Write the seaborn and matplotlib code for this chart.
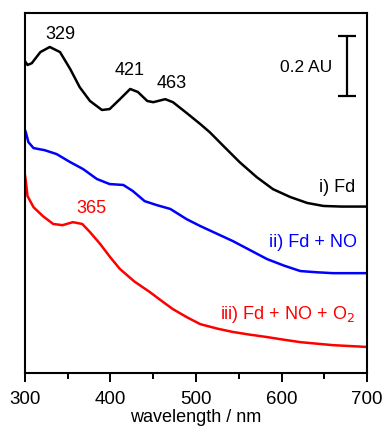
import matplotlib
matplotlib.use("Agg")
import matplotlib.pyplot as plt
import seaborn as sns
import pandas as pd

# spectra (wavelength in nm, absorbance offset in AU)
wl_fd = [300, 303, 308, 318, 329, 341, 353, 364, 376, 390, 399, 411, 423, 432, 443, 450,
         464, 473, 489, 505, 516, 532, 551, 571, 590, 610, 630, 649, 670, 700]
abs_fd = [1.04, 1.027, 1.033, 1.07, 1.087, 1.07, 1.013, 0.953, 0.907, 0.877, 0.88, 0.913,
          0.947, 0.937, 0.907, 0.903, 0.913, 0.903, 0.867, 0.83, 0.803, 0.757, 0.703, 0.653,
          0.613, 0.587, 0.567, 0.557, 0.555, 0.555]

wl_no = [300, 301, 304, 310, 323, 337, 353, 368, 384, 399, 415, 426, 440, 454, 470, 489,
         505, 524, 543, 563, 583, 603, 622, 641, 660, 680, 700]
abs_no = [0.81, 0.803, 0.77, 0.75, 0.743, 0.73, 0.703, 0.68, 0.647, 0.63, 0.627, 0.607,
          0.573, 0.56, 0.547, 0.513, 0.49, 0.465, 0.44, 0.41, 0.38, 0.358, 0.34, 0.336,
          0.333, 0.333, 0.333]

wl_o2 = [300, 301, 303, 310, 321, 333, 344, 356, 367, 376, 388, 400, 411, 428, 446, 460,
         473, 490, 505, 525, 543, 563, 583, 603, 622, 641, 660, 680, 700]
abs_o2 = [0.66, 0.64, 0.59, 0.553, 0.523, 0.497, 0.493, 0.503, 0.497, 0.47, 0.43, 0.385,
          0.347, 0.305, 0.27, 0.24, 0.213, 0.185, 0.163, 0.148, 0.137, 0.128, 0.12, 0.111,
          0.103, 0.098, 0.093, 0.09, 0.087]

series = [("i) Fd", wl_fd, abs_fd, "black"),
          ("ii) Fd + NO", wl_no, abs_no, "#0000ff"),
          ("iii) Fd + NO + O$_2$", wl_o2, abs_o2, "#ff0000")]

peak_labels = ["329", "421", "463"]
peak_pos = [(341, 1.133), (422, 1.013), (472, 0.967)]

sns.set_theme(style="ticks")
plt.rcParams["font.family"] = ["Liberation Sans", "DejaVu Sans"]
plt.rcParams["text.color"] = "black"
plt.rcParams["axes.labelcolor"] = "black"
plt.rcParams["xtick.color"] = "black"

fig = plt.figure(figsize=(3.84, 4.27), dpi=100)
ax = fig.add_axes([0.065, 0.124, 0.891, 0.843])

for name, x, y, col in series:
    df = pd.DataFrame({"wl": x, "A": y})
    sns.lineplot(data=df, x="wl", y="A", color=col, lw=1.8, ax=ax, sort=False,
                 solid_joinstyle="round")

fs = 13
for lab, (x, y) in zip(peak_labels, peak_pos):
    ax.text(x, y, lab, ha="center", va="center", fontsize=fs, color="black")
ax.text(378, 0.553, "365", ha="center", va="center", fontsize=fs, color="#ff0000")

ax.text(686, 0.623, "i) Fd", ha="right", va="center", fontsize=fs, color="black")
ax.text(688, 0.437, "ii) Fd + NO", ha="right", va="center", fontsize=fs, color="#0000ff")
ax.text(686, 0.197, "iii) Fd + NO + O$_2$", ha="right", va="center", fontsize=fs,
        color="#ff0000")

# 0.2 AU scale bar
ax.errorbar([676.5], [1.023], yerr=[0.1], color="black", lw=1.6, capsize=6.5, capthick=1.6)
ax.text(659, 1.023, "0.2 AU", ha="right", va="center", fontsize=12.5)

ax.set_xlim(300, 700)
ax.set_ylim(0, 1.2)
ax.set_xticks([300, 400, 500, 600, 700])
ax.set_xticks([350, 450, 550, 650], minor=True)
ax.set_yticks([])
ax.tick_params(axis="x", direction="out", length=6.5, width=1.4, labelsize=13.5, pad=6)
ax.tick_params(axis="x", which="minor", direction="out", length=4.3, width=1.4)
for s in ax.spines.values():
    s.set_linewidth(1.5)
    s.set_color("black")
ax.set_xlabel("wavelength / nm", fontsize=13, labelpad=0.5)
ax.set_ylabel("")

fig.savefig("out.png", dpi=100)
